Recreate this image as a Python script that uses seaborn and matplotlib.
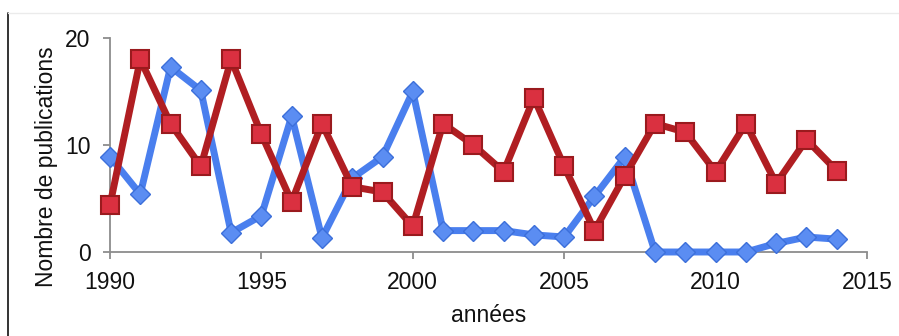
import matplotlib
matplotlib.use("Agg")
import matplotlib.pyplot as plt
from matplotlib.lines import Line2D
import seaborn as sns
import pandas as pd

years = list(range(1990, 2015))
serie_bleue = [8.9, 5.4, 17.3, 15.1, 1.8, 3.4, 12.7, 1.3, 6.9, 8.9, 15.0,
               2.0, 2.0, 2.0, 1.6, 1.4, 5.2, 8.9, 0.0, 0.0, 0.0, 0.0, 0.8, 1.4, 1.2]
serie_rouge = [4.4, 18.0, 12.0, 8.0, 18.0, 11.0, 4.7, 12.0, 6.1, 5.6, 2.4,
               12.0, 10.0, 7.5, 14.4, 8.0, 2.0, 7.1, 12.0, 11.2, 7.5, 12.0, 6.4, 10.5, 7.6]
x_ticks = [1990, 1995, 2000, 2005, 2010, 2015]
y_ticks = [0, 10, 20]

df_bleu = pd.DataFrame({"annee": years, "n": serie_bleue})
df_rouge = pd.DataFrame({"annee": years, "n": serie_rouge})

sns.set_style("white")
plt.rcParams["font.family"] = ["Liberation Sans", "DejaVu Sans"]

fig = plt.figure(figsize=(8.99, 3.36), dpi=100)
ax = fig.add_axes([110 / 899, 84 / 336, 757 / 899, 214 / 336])

sns.lineplot(data=df_bleu, x="annee", y="n", ax=ax, color="#4A7FEE",
             linewidth=5.0, marker="D", markersize=10,
             markerfacecolor="#5B8DF2", markeredgecolor="#3C6FDA",
             markeredgewidth=1.0, clip_on=False, zorder=3)
sns.lineplot(data=df_rouge, x="annee", y="n", ax=ax, color="#B01E22",
             linewidth=5.0, marker="s", markersize=12.5,
             markerfacecolor="#DA3040", markeredgecolor="#9A1A1E",
             markeredgewidth=1.5, clip_on=False, zorder=4)

ax.set_xlim(1990, 2015)
ax.set_ylim(0, 20)
ax.set_xticks(x_ticks)
ax.set_yticks(y_ticks)

for side in ("top", "right"):
    ax.spines[side].set_visible(False)
for side in ("left", "bottom"):
    ax.spines[side].set_color("#8C8C8C")
    ax.spines[side].set_linewidth(1.3)

ax.tick_params(axis="both", which="major", direction="out", length=5,
               width=1.3, color="#8C8C8C", labelsize=16.5, labelcolor="#111111",
               left=True, bottom=True)
ax.tick_params(axis="y", pad=9)
ax.tick_params(axis="x", pad=9)

ax.set_xlabel("années", fontsize=16.5, color="#111111")
ax.set_ylabel("Nombre de publications", fontsize=16.5, color="#111111")
ax.xaxis.set_label_coords(0.5, -0.245)
ax.yaxis.set_label_coords(-0.069, 0.397)

# frame lines around the figure
fig.add_artist(Line2D([8 / 899, 8 / 899], [0, 1 - 13 / 336],
                      transform=fig.transFigure, color="#111111", linewidth=1.2))
fig.add_artist(Line2D([8 / 899, 1], [1 - 13 / 336, 1 - 13 / 336],
                      transform=fig.transFigure, color="#EBEBEB", linewidth=1.0))

fig.savefig("out.png", dpi=100)
